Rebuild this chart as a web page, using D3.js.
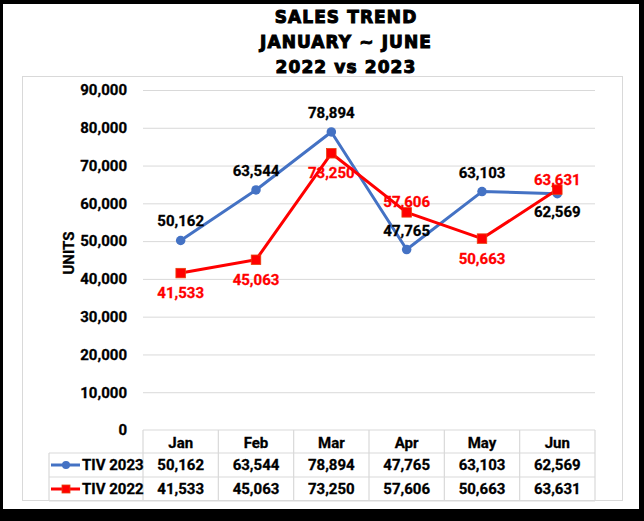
<!DOCTYPE html>
<html>
  <head>
    <meta charset="utf-8">
    <title>Sales trend January ~ June, 2022 vs 2023</title>
    <script src="https://cdn.jsdelivr.net/npm/d3@7"></script>
    <style>
      body { margin: 0; background: #fff; }
      svg { display: block; }
      .title { font-family: "DejaVu Sans", sans-serif; font-weight: bold; font-size: 17px; letter-spacing: 1.1px; fill: #000; stroke: #000; stroke-width: 1px; }
      .lab { font-family: Roboto, sans-serif; font-weight: bold; font-size: 15px; stroke-width: 0.3px; }
      .axis text { font-family: Roboto, sans-serif; font-weight: bold; font-size: 15px; fill: #000; stroke: #000; stroke-width: 0.3px; }
      .axis line { stroke: #d9d9d9; }
      .axis .domain { display: none; }
    </style>
  </head>

  <body>
    <svg id="chart" width="644" height="521"></svg>

    <script>
      // data
      var months = ["Jan", "Feb", "Mar", "Apr", "May", "Jun"];
      var tiv2023 = [50162, 63544, 78894, 47765, 63103, 62569];
      var tiv2022 = [41533, 45063, 73250, 57606, 50663, 63631];
      var yTicks = [0, 10000, 20000, 30000, 40000, 50000, 60000, 70000, 80000, 90000];
      var titleLines = ["SALES TREND", "JANUARY ~ JUNE", "2022 vs 2023"];

      var series = [
        { name: "TIV 2023", values: tiv2023, color: "#4472c4", labelColor: "#000", marker: "circle" },
        { name: "TIV 2022", values: tiv2022, color: "#ff0000", labelColor: "#ff0000", marker: "square" }
      ];
      // where excel put each data label
      series[0].place = ["up", "up", "up", "up", "up", "down"];
      series[1].place = ["down", "down", "down", "up", "down", "up"];

      var svg = d3.select("#chart");
      var fmt = d3.format(",");

      // frame
      svg.append("rect").attr("width", 644).attr("height", 521).attr("fill", "#000");
      svg.append("rect").attr("x", 3).attr("y", 4).attr("width", 636).attr("height", 505).attr("fill", "#fff");
      svg.append("rect").attr("x", 22.5).attr("y", 76.5).attr("width", 600).attr("height", 424)
        .attr("fill", "none").attr("stroke", "#d9d9d9");

      // title
      svg.selectAll(".title")
          .data(titleLines)
        .enter().append("text")
          .attr("class", "title")
          .attr("x", 346)
          .attr("y", function(d, i) { return 22.5 + i * 25.4; })
          .attr("text-anchor", "middle")
          .text(function(d) { return d; });

      // scales
      var plotL = 143, plotR = 595, plotT = 90, plotB = 430;
      var x = d3.scaleBand().domain(months).range([plotL, plotR]);
      var y = d3.scaleLinear().domain([0, 90000]).range([plotB, plotT]);

      var yAxis = d3.axisLeft(y)
        .tickValues(yTicks)
        .tickFormat(fmt)
        .tickSizeInner(-(plotR - plotL))
        .tickSizeOuter(0)
        .tickPadding(16);
      svg.append("g")
        .attr("class", "axis")
        .attr("transform", "translate(" + plotL + ",0)")
        .call(yAxis)
        .selectAll(".tick")
          .filter(function(d) { return d === 0; })
          .select("line").remove();

      svg.append("text")
        .attr("class", "lab")
        .attr("transform", "translate(69,253) rotate(-90)")
        .attr("text-anchor", "middle")
        .attr("dominant-baseline", "central")
        .attr("font-size", "14px")
        .attr("stroke", "#000")
        .text("UNITS");

      // lines
      function cx(i) { return x(months[i]) + x.bandwidth() / 2; }
      var line = d3.line()
        .x(function(d, i) { return cx(i); })
        .y(function(d) { return y(d); });

      series.forEach(function(s) {
        svg.append("path")
          .datum(s.values)
          .attr("d", line)
          .attr("fill", "none")
          .attr("stroke", s.color)
          .attr("stroke-width", 3)
          .attr("stroke-linejoin", "round");
      });

      function drawMarker(g, s, px, py, size) {
        if (s.marker == "circle") {
          g.append("circle").attr("cx", px).attr("cy", py).attr("r", size / 2).attr("fill", s.color);
        } else {
          g.append("rect").attr("x", px - size / 2).attr("y", py - size / 2)
            .attr("width", size).attr("height", size)
            .attr("fill", s.color).attr("stroke", "#e8400c").attr("stroke-width", 0.8);
        }
      }

      series.forEach(function(s) {
        var g = svg.append("g");
        s.values.forEach(function(v, i) {
          drawMarker(g, s, cx(i), y(v), s.marker == "circle" ? 9.5 : 9.5);
        });
      });

      // data labels
      series.forEach(function(s, si) {
        svg.append("g")
          .selectAll("text")
            .data(s.values)
          .enter().append("text")
            .attr("class", "lab")
            .attr("fill", s.labelColor)
            .attr("stroke", s.labelColor)
            .attr("text-anchor", "middle")
            .attr("dominant-baseline", "central")
            .attr("x", function(d, i) { return cx(i); })
            .attr("y", function(d, i) {
              if (s.place[i] == "up") return y(d) - (si == 0 ? 19 : 10);
              return y(d) + (si == 0 ? 18 : 20);
            })
            .text(function(d) { return fmt(d); });
      });

      // data table
      var rowTop = [430, 453, 477, 501];
      var table = svg.append("g").attr("stroke", "#d9d9d9").attr("stroke-width", 1.2);
      table.append("line").attr("x1", plotL).attr("x2", plotR).attr("y1", rowTop[0]).attr("y2", rowTop[0]);
      [1, 2, 3].forEach(function(r) {
        table.append("line").attr("x1", 49).attr("x2", plotR).attr("y1", rowTop[r]).attr("y2", rowTop[r]);
      });
      months.forEach(function(m) {
        table.append("line").attr("x1", x(m)).attr("x2", x(m)).attr("y1", rowTop[0]).attr("y2", rowTop[3]);
      });
      table.append("line").attr("x1", plotR).attr("x2", plotR).attr("y1", rowTop[0]).attr("y2", rowTop[3]);
      table.append("line").attr("x1", 49).attr("x2", 49).attr("y1", rowTop[1]).attr("y2", rowTop[3]);

      svg.append("g")
        .selectAll("text")
          .data(months)
        .enter().append("text")
          .attr("class", "lab")
          .attr("stroke", "#000")
          .attr("text-anchor", "middle")
          .attr("dominant-baseline", "central")
          .attr("x", function(d) { return x(d) + x.bandwidth() / 2; })
          .attr("y", (rowTop[0] + rowTop[1]) / 2 + 1)
          .text(function(d) { return d; });

      series.forEach(function(s, si) {
        var rowY = (rowTop[si + 1] + rowTop[si + 2]) / 2;
        var key = svg.append("g");
        key.append("line").attr("x1", 51).attr("x2", 80).attr("y1", rowY).attr("y2", rowY)
          .attr("stroke", s.color).attr("stroke-width", 3);
        drawMarker(key, s, 66, rowY, 8);
        key.append("text")
          .attr("class", "lab")
          .attr("stroke", "#000")
          .attr("font-size", "14px")
          .attr("x", 82)
          .attr("y", rowY)
          .attr("dominant-baseline", "central")
          .text(s.name);

        svg.append("g")
          .selectAll("text")
            .data(s.values)
          .enter().append("text")
            .attr("class", "lab")
            .attr("stroke", "#000")
            .attr("text-anchor", "middle")
            .attr("dominant-baseline", "central")
            .attr("x", function(d, i) { return cx(i); })
            .attr("y", rowY)
            .text(function(d) { return fmt(d); });
      });
    </script>
  </body>
</html>
